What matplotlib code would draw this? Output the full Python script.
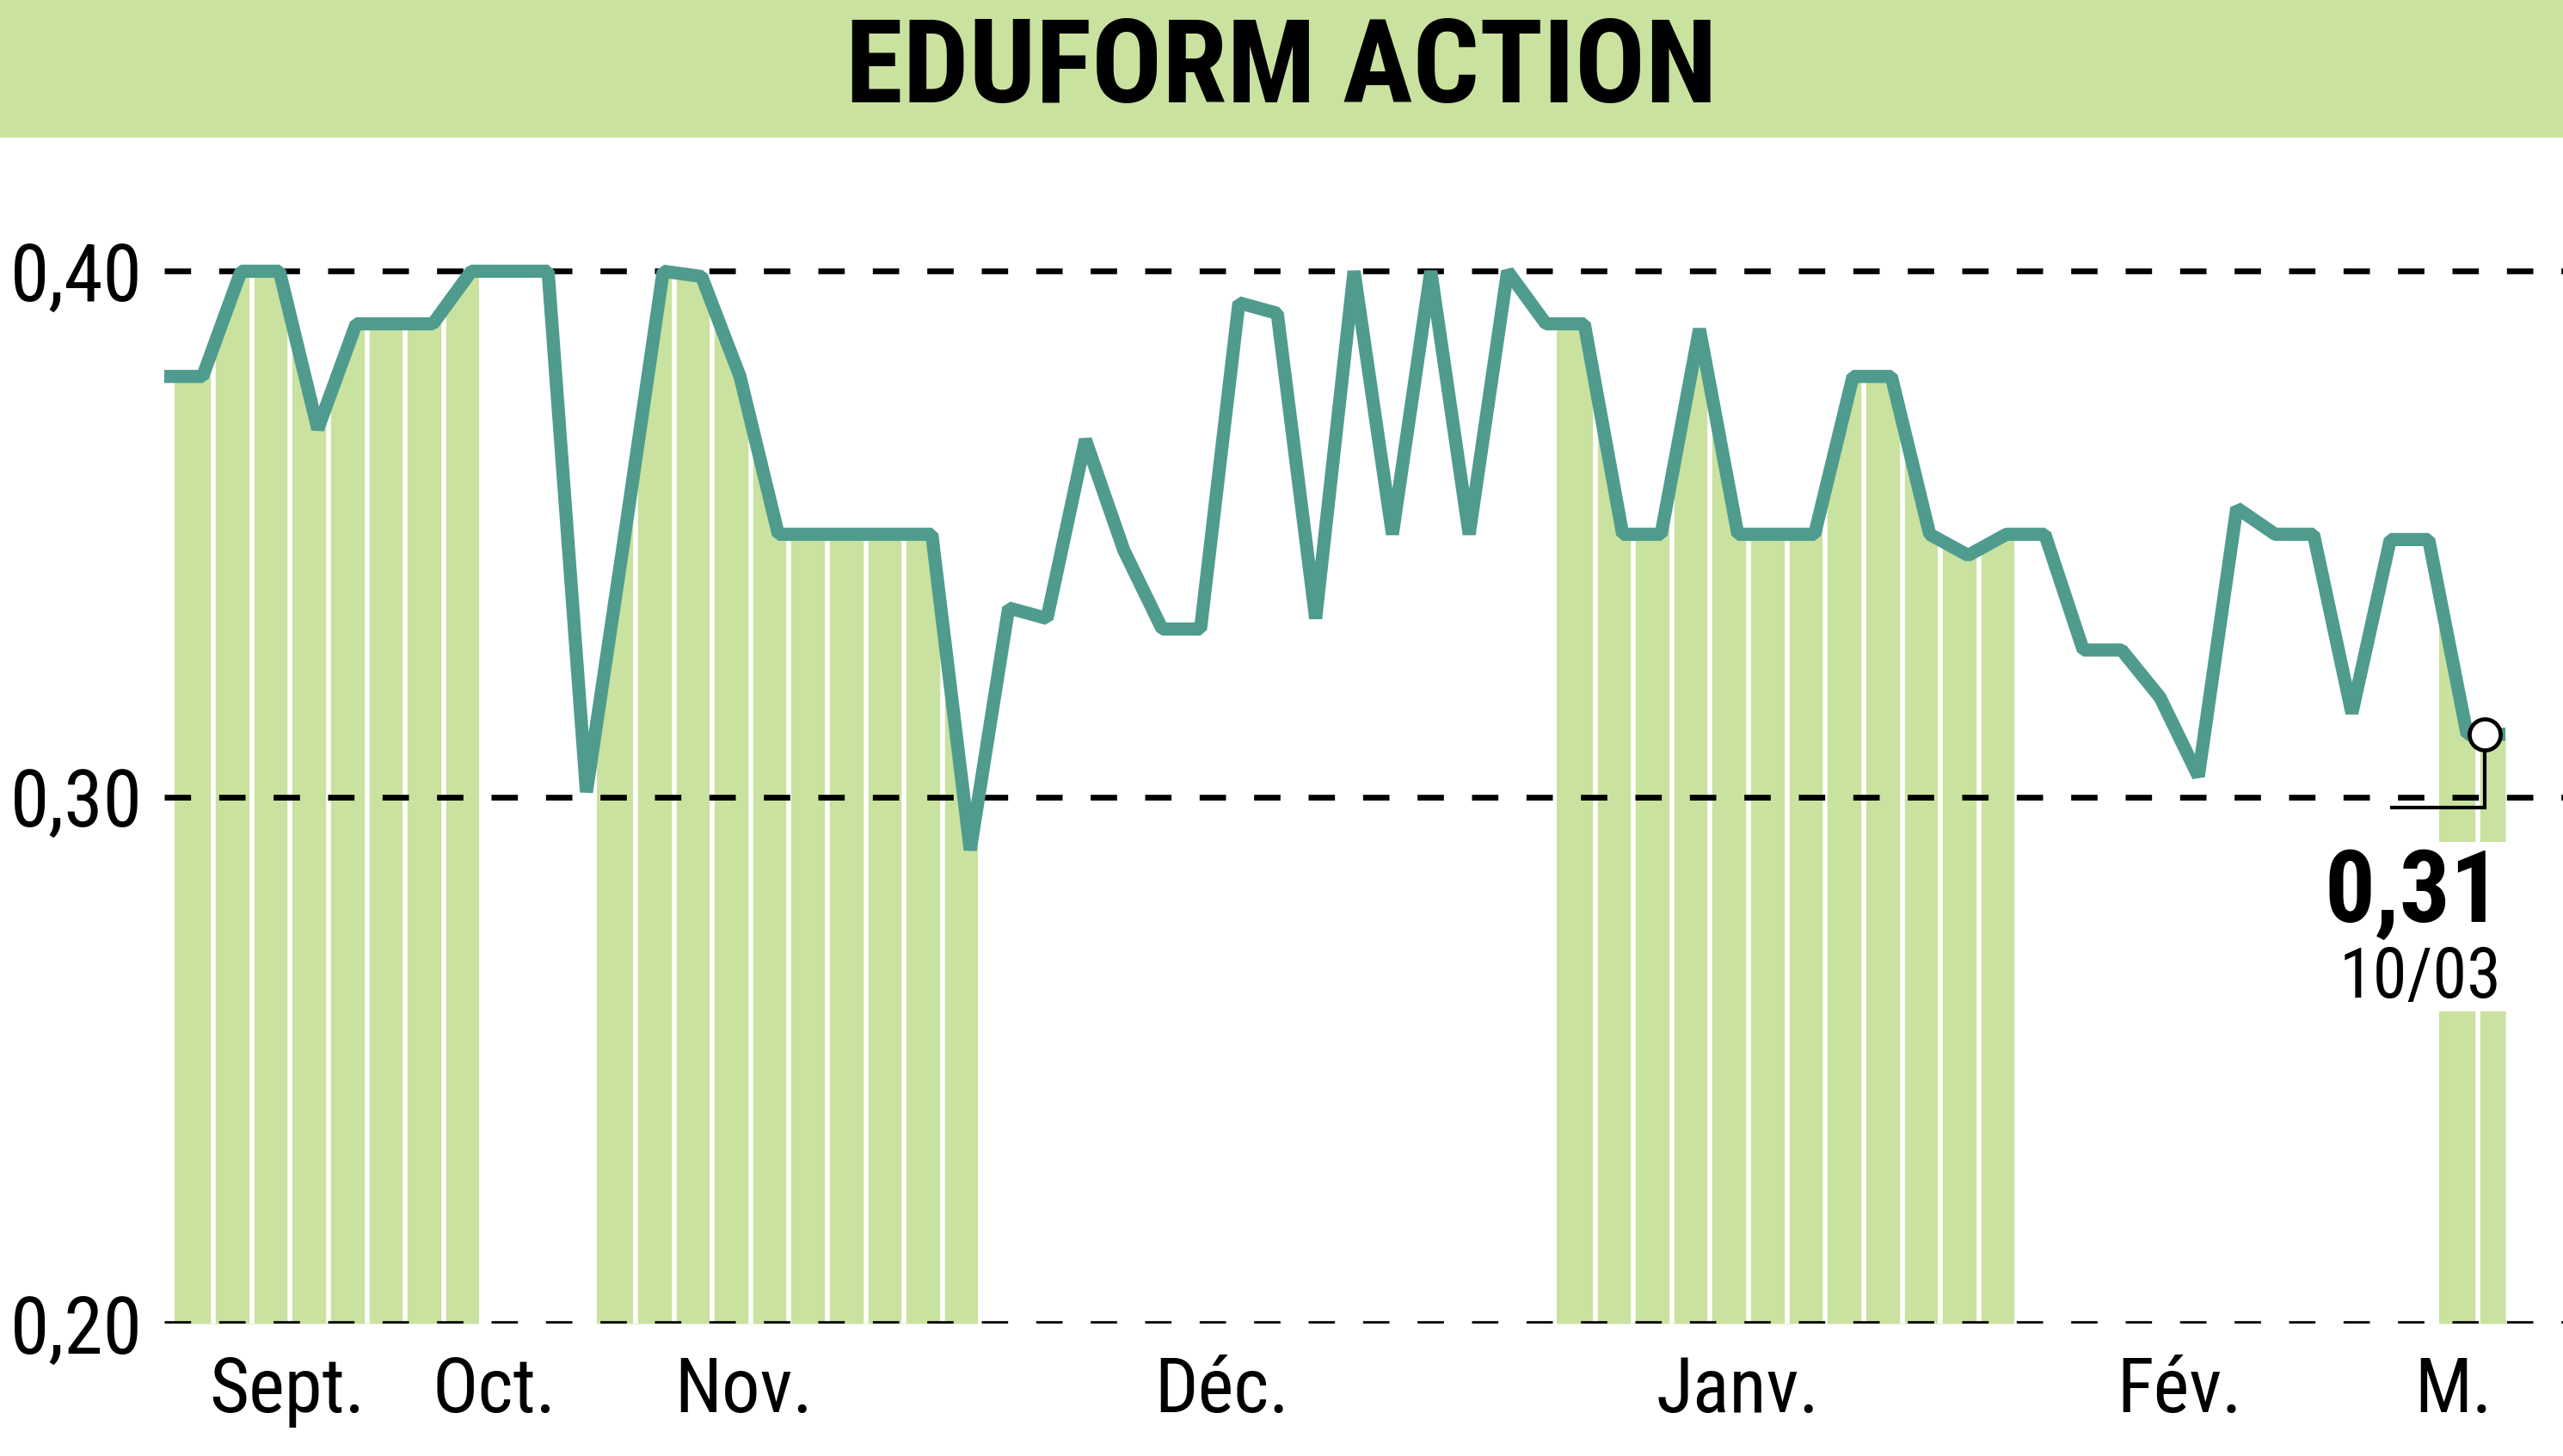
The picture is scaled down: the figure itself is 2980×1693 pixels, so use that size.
import matplotlib
matplotlib.use('Agg')
import matplotlib.pyplot as plt
from matplotlib import font_manager
from matplotlib.patches import Rectangle

# daily closing prices, one per trading day
prices = [0.380, 0.380, 0.400, 0.400, 0.370, 0.390, 0.390, 0.390, 0.400, 0.400,
          0.400, 0.301, 0.350, 0.400, 0.399, 0.380, 0.350, 0.350, 0.350, 0.350,
          0.350, 0.290, 0.336, 0.334, 0.368, 0.347, 0.332, 0.332, 0.394, 0.392,
          0.334, 0.400, 0.350, 0.400, 0.350, 0.400, 0.390, 0.390, 0.350, 0.350,
          0.389, 0.350, 0.350, 0.350, 0.380, 0.380, 0.350, 0.346, 0.350, 0.350,
          0.328, 0.328, 0.319, 0.304, 0.355, 0.350, 0.350, 0.316, 0.349, 0.349,
          0.312, 0.312]

month_labels = ['Sept.', 'Oct.', 'Nov.', 'Déc.', 'Janv.', 'Fév.', 'M.']
month_label_pos = [3.2, 8.6, 15.1, 27.55, 41.0, 52.5, 59.65]
month_days = [8, 3, 10, 15, 12, 11, 2]
month_shaded = [True, False, True, False, True, False, True]

y_ticks = [0.20, 0.30, 0.40]
y_ticklabels = ['0,20', '0,30', '0,40']

title = 'EDUFORM ACTION'
last_value = '0,31'
last_date = '10/03'

GREEN = '#c9e29f'
TEAL = '#4f9c8e'


def pick_font(names):
    for name in names:
        try:
            font_manager.findfont(name, fallback_to_default=False)
            return name
        except Exception:
            continue
    return 'DejaVu Sans'


FONT = pick_font(['Liberation Sans Narrow', 'Roboto Condensed', 'Open Sans Condensed', 'DejaVu Sans'])
plt.rcParams['font.family'] = [FONT, 'DejaVu Sans']

W, H = 2980, 1693
fig = plt.figure(figsize=(W / 200, H / 200), dpi=200)

# title band
band_h = 158 / H
fig.patches.append(Rectangle((0, 1 - band_h), 1, band_h, transform=fig.transFigure,
                             color=GREEN, zorder=0))
fig.text(0.5, 1 - 82 / H, title, ha='center', va='center', fontsize=49,
         fontweight='bold', color='black')

ax = fig.add_axes([191 / W, 0.091, 1 - 191 / W, 0.886 - 0.091])
idx = list(range(len(prices)))
x_max = 62.5
ax.set_xlim(0, x_max)
ax.set_ylim(0.20, 0.42)

# monthly bars under the curve (every other month)
edge = 0.28
for days, shaded in zip(month_days, month_shaded):
    start, end = edge, edge + days
    if shaded:
        fb = ax.fill_between(idx, prices, 0.20, color=GREEN, lw=0, zorder=1)
        clip = Rectangle((start, 0.20), end - start - 0.1, 0.25, transform=ax.transData)
        fb.set_clip_path(clip)
        seps = [start + k for k in range(1, days)]
        ax.vlines(seps, 0.20, 0.42, colors='white', lw=2.0, zorder=2)
    edge = end

# white box behind last value text
ax.add_patch(Rectangle((55.6, 0.2593), 5.75, 0.0322, facecolor='white',
                       edgecolor='none', zorder=2.5))

for yv in y_ticks:
    ax.axhline(yv, color='black', lw=2.4, linestyle=(0, (4.6, 4.9)), zorder=3)

ax.plot(idx, prices, color=TEAL, lw=5.5, zorder=4, solid_joinstyle='bevel',
        solid_capstyle='butt')

# last value marker with bracket
xc = idx[-1] - 0.55
yc = prices[-1]
ax.plot([xc, xc, 58.05], [yc, 0.298, 0.298], color='black', lw=1.5, zorder=5,
        solid_joinstyle='miter')
ax.plot([xc], [yc], 'o', ms=13, mfc='white', mec='black', mew=1.7, zorder=6)
ax.text(60.9, 0.2815, last_value, ha='right', va='center', fontsize=42,
        fontweight='bold', zorder=6)
ax.text(60.9, 0.2655, last_date, ha='right', va='center', fontsize=29, zorder=6)

ax.set_yticks(y_ticks)
ax.set_yticklabels(y_ticklabels)
ax.set_xticks(month_label_pos)
ax.set_xticklabels(month_labels)
ax.tick_params(axis='y', length=0, pad=9, labelsize=33)
ax.tick_params(axis='x', length=0, pad=13, labelsize=32)
for s in ax.spines.values():
    s.set_visible(False)

fig.savefig('out.png', dpi=200, facecolor='white')
